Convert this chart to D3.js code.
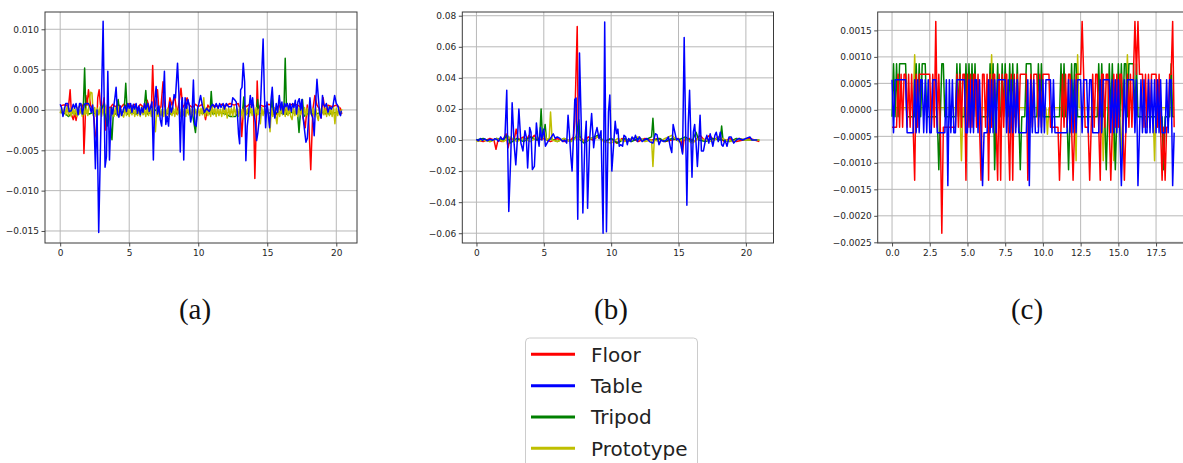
<!DOCTYPE html>
<html>
<head>
<meta charset="utf-8">
<script src="https://cdn.jsdelivr.net/npm/d3@7"></script>
<style>
  html, body { margin: 0; padding: 0; background: #fff; }
  svg { display: block; }
</style>
</head>
<body>
<svg id="fig" width="1183" height="463"></svg>
<script>
// ---------------- data ----------------
const seriesNames = ["Floor", "Table", "Tripod", "Prototype"];
const seriesColors = ["#ff0000", "#0000ff", "#008000", "#bfbf00"];
const captions = ["(a)", "(b)", "(c)"];

// tick values
const aXTicks = [0, 5, 10, 15, 20];
const aYTicks = [-0.015, -0.010, -0.005, 0, 0.005, 0.010];
const bXTicks = [0, 5, 10, 15, 20];
const bYTicks = [-0.06, -0.04, -0.02, 0, 0.02, 0.04, 0.06, 0.08];
const cXTicks = [0, 2.5, 5, 7.5, 10, 12.5, 15, 17.5];
const cYTicks = [-0.0025, -0.002, -0.0015, -0.001, -0.0005, 0, 0.0005, 0.001, 0.0015];

// (a) samples as [time, value]
const aFloor = [[0,0.0005],[0.2,0.0006],[0.45,0.0006],[0.6,0.0003],[0.72,0.0025],[0.82,-0.0006],[0.95,-0.0012],[1.05,-0.0004],[1.15,-0.0013],[1.3,0.0002],[1.45,0.0006],[1.6,0.0006],[1.66,0.0],[1.72,-0.0054],[1.8,-0.002],[1.86,0.0018],[1.95,0.0006],[2.05,0.0025],[2.2,0.0006],[2.4,0.0],[2.52,-0.0028],[2.62,-0.0035],[2.72,0.0015],[2.82,0.0025],[2.92,0.0006],[3.05,0.0],[3.18,0.0015],[3.3,-0.0025],[3.42,0.0006],[3.6,0.0002],[3.8,0.0007],[4.0,0.0004],[4.2,0.0007],[4.4,0.0003],[4.6,0.0007],[4.8,0.0005],[5.0,0.0008],[5.2,0.0004],[5.4,0.0007],[5.6,0.0002],[5.8,0.0007],[6.0,0.0004],[6.1,0.0],[6.3,0.0012],[6.5,0.0],[6.62,0.0008],[6.7,0.0055],[6.8,0.0],[6.9,0.0006],[7.05,0.0025],[7.15,0.0],[7.3,0.0004],[7.45,0.0035],[7.55,0.0006],[7.7,-0.0007],[7.85,0.0003],[7.95,0.0015],[8.1,0.0006],[8.3,0.0017],[8.45,-0.0005],[8.6,0.0008],[8.75,0.0027],[8.88,0.0003],[9.0,0.0006],[9.2,0.0015],[9.35,0.0006],[9.6,0.0003],[9.8,0.0007],[10.0,0.0004],[10.3,0.0007],[10.53,-0.0012],[10.7,0.0006],[10.95,0.0],[11.1,0.0006],[11.4,0.0004],[11.7,0.0007],[12.0,0.0005],[12.3,0.0008],[12.6,0.0006],[12.9,0.0008],[13.05,0.0],[13.15,-0.0033],[13.3,0.0006],[13.5,0.0004],[13.7,0.0007],[14.0,0.0006],[14.1,-0.0085],[14.2,-0.002],[14.27,0.0036],[14.35,0.0],[14.5,0.0006],[14.8,0.0004],[15.1,0.0007],[15.4,0.0005],[15.7,-0.0006],[15.9,0.0006],[16.2,0.0004],[16.4,-0.0005],[16.6,0.0006],[16.9,0.0007],[17.2,0.0006],[17.45,0.0003],[17.6,-0.001],[17.75,-0.0022],[17.9,0.0006],[18.0,-0.0012],[18.15,-0.0074],[18.3,0.0],[18.45,0.0018],[18.6,0.0006],[18.75,0.0002],[18.9,-0.001],[19.05,0.0015],[19.2,-0.0005],[19.4,0.0006],[19.7,0.0004],[20.0,0.0006],[20.3,0.0002],[20.4,-0.0005]];

const aTable = [[0,0.0007],[0.1,0.0003],[0.2,-0.0008],[0.3,0.0],[0.4,0.0008],[0.55,0.0008],[0.65,-0.0002],[0.8,-0.0001],[0.95,0.0007],[1.05,0.0002],[1.15,0.0008],[1.3,-0.0006],[1.4,0.0008],[1.5,0.0008],[1.6,-0.0005],[1.75,0.0007],[1.9,0.0008],[2.05,0.0008],[2.15,0.0004],[2.25,-0.0003],[2.35,0.0006],[2.45,-0.0012],[2.55,-0.0073],[2.67,0.0],[2.79,-0.0152],[2.95,-0.002],[3.11,0.011],[3.25,-0.0071],[3.35,-0.0058],[3.45,0.0048],[3.57,-0.0062],[3.7,0.0003],[3.8,-0.0005],[3.95,0.0013],[4.05,0.0028],[4.15,-0.0005],[4.25,-0.0009],[4.35,0.0005],[4.45,-0.0007],[4.6,0.0002],[4.7,0.0005],[4.8,-0.0002],[4.9,0.0008],[5.0,0.0002],[5.1,0.0008],[5.2,-0.0003],[5.3,0.0007],[5.4,0.0001],[5.5,0.0008],[5.6,-0.0004],[5.7,0.0005],[5.8,-0.0006],[5.9,0.0003],[6.0,-0.0003],[6.1,0.0008],[6.2,0.0001],[6.35,0.0008],[6.45,-0.0002],[6.55,0.0003],[6.65,0.001],[6.75,-0.0062],[6.85,0.0012],[6.95,0.0029],[7.05,-0.0005],[7.15,0.0005],[7.25,-0.0012],[7.35,-0.002],[7.45,0.001],[7.55,0.0048],[7.65,-0.0018],[7.75,-0.0008],[7.85,-0.002],[7.95,0.001],[8.05,-0.0003],[8.15,0.0003],[8.25,0.0019],[8.35,0.0015],[8.5,0.0058],[8.6,0.002],[8.7,-0.0052],[8.8,0.001],[8.85,0.0015],[8.95,-0.0062],[9.05,0.0015],[9.15,0.0002],[9.25,0.0013],[9.35,0.0005],[9.45,-0.0015],[9.55,-0.0006],[9.65,0.0037],[9.75,-0.0018],[9.85,-0.002],[9.95,0.0001],[10.05,0.0008],[10.17,0.0018],[10.3,0.0005],[10.45,-0.0003],[10.6,0.0002],[10.7,0.0],[10.8,-0.0002],[10.95,0.0005],[11.05,0.0007],[11.2,0.0003],[11.3,0.0008],[11.45,0.0002],[11.55,0.0008],[11.65,0.0003],[11.8,0.0008],[11.9,0.0001],[12.03,0.0008],[12.2,0.0004],[12.4,0.0004],[12.5,0.0015],[12.62,0.0013],[12.75,0.001],[12.83,-0.0003],[12.92,-0.003],[13.0,-0.0042],[13.07,0.0025],[13.17,0.0028],[13.26,0.0058],[13.36,0.0035],[13.45,-0.0063],[13.55,-0.002],[13.67,0.0],[13.77,0.0018],[13.86,0.0003],[13.94,0.0015],[14.03,-0.0003],[14.13,-0.0015],[14.23,-0.0038],[14.32,-0.0028],[14.42,-0.0012],[14.52,0.001],[14.6,0.0045],[14.7,0.0088],[14.79,0.002],[14.88,-0.0022],[14.98,0.001],[15.07,-0.0005],[15.17,-0.0022],[15.27,0.0012],[15.36,0.0028],[15.46,0.0],[15.55,-0.001],[15.65,0.0008],[15.75,-0.0003],[15.87,0.0018],[15.97,0.0],[16.06,0.001],[16.16,-0.0005],[16.26,0.0008],[16.35,0.0004],[16.45,0.0008],[16.55,0.0],[16.64,0.0008],[16.74,-0.0002],[16.84,0.0008],[16.93,0.0003],[17.03,0.0012],[17.12,-0.0005],[17.22,0.001],[17.32,0.0014],[17.41,0.0],[17.51,0.0013],[17.6,-0.001],[17.7,-0.0025],[17.8,-0.004],[17.9,-0.0035],[18.0,-0.0008],[18.09,0.0015],[18.19,-0.0005],[18.3,-0.001],[18.4,-0.0032],[18.5,0.0007],[18.6,0.0038],[18.7,0.0015],[18.8,-0.0005],[18.9,-0.001],[19.0,0.0018],[19.08,0.0007],[19.18,0.0004],[19.28,0.0008],[19.4,-0.0003],[19.52,0.0004],[19.64,0.0001],[19.76,0.0005],[19.88,0.0018],[20.0,0.0008],[20.12,0.0005],[20.24,-0.0005],[20.31,-0.0007],[20.36,-0.0001]];

const aTripod = [[0,-0.0003],[0.3,-0.0004],[0.6,-0.0008],[0.9,-0.0003],[1.2,-0.0005],[1.5,-0.0003],[1.66,-0.0005],[1.77,0.0052],[1.86,-0.0003],[2.1,-0.0005],[2.4,-0.0003],[2.7,-0.0006],[2.95,0.0],[3.2,0.0008],[3.4,-0.002],[3.55,0.0],[3.75,-0.0037],[3.86,0.0],[4.0,-0.0005],[4.2,0.0013],[4.32,-0.0005],[4.5,-0.0003],[4.63,-0.0002],[4.75,0.0033],[4.86,-0.0005],[5.2,-0.0003],[5.5,-0.0005],[5.8,-0.0002],[6.05,-0.0005],[6.2,0.0024],[6.32,-0.0005],[6.6,-0.0003],[6.9,0.0],[7.2,-0.0005],[7.6,-0.0003],[8.0,-0.0005],[8.4,-0.0002],[8.8,-0.0005],[9.2,-0.0003],[9.6,-0.0006],[9.8,-0.0028],[9.92,-0.0002],[10.3,-0.0004],[10.7,-0.0003],[10.85,-0.0005],[10.94,0.0023],[11.05,-0.0005],[11.5,-0.0003],[12.0,-0.0005],[12.3,-0.0008],[12.7,-0.0008],[12.9,-0.0003],[13.2,-0.0004],[13.3,0.0016],[13.4,-0.0005],[13.8,-0.0003],[14.2,-0.0004],[14.3,0.0013],[14.4,-0.0005],[14.9,-0.0003],[15.25,-0.0004],[15.35,0.0015],[15.45,-0.0005],[15.9,-0.0003],[16.2,-0.0005],[16.3,0.0064],[16.4,-0.0005],[16.8,-0.0003],[17.2,-0.0005],[17.3,-0.0028],[17.4,-0.0003],[17.55,0.0013],[17.65,-0.0008],[18.0,-0.0003],[18.5,-0.0005],[19.0,-0.0003],[19.5,-0.0005],[20.0,-0.0003],[20.4,-0.0003]];

// (a) prototype, one sample every 0.1 s
const aPrototypeStep = 0.1;
const aPrototype = [
  -0.0004,0.0002,-0.0007,0.0003,-0.0006,0.0004,-0.0007,0.0002,-0.0008,0.0003,
  -0.0006,0.0001,-0.0008,0.0003,-0.0005,0.0002,-0.0008,0.0004,-0.0006,0.0002,
  -0.0007,0.0008,0.0022,0.0021,-0.0007,0.0003,-0.0008,0.0002,-0.0006,0.0004,
  -0.0008,0.0001,-0.0007,0.0003,-0.0009,-0.0012,0.0002,-0.0007,0.0003,-0.0008,
  0.0002,-0.0007,0.0004,-0.0008,0.0001,-0.0006,-0.0009,0.0003,-0.0007,0.0002,
  -0.0008,0.0005,-0.0006,0.0002,-0.0008,0.0003,-0.0007,0.0001,-0.0008,0.0004,
  -0.0006,0.0002,-0.0008,0.0003,-0.0007,0.0002,-0.0008,0.0004,-0.0006,-0.0027,
  0.0002,-0.0008,0.0003,-0.0007,0.0001,-0.0008,0.0003,-0.0006,0.0002,-0.0008,
  0.0004,-0.0007,0.0002,-0.0008,0.0003,-0.0006,0.0001,-0.0008,0.0003,-0.0007,
  0.0002,-0.0008,0.0004,-0.0006,0.0002,-0.0009,0.0003,-0.0007,0.0001,-0.0008,
  0.0003,-0.0007,0.0002,-0.0006,0.0015,-0.0008,0.0003,-0.0007,0.0002,-0.0008,
  0.0004,-0.0006,0.0002,-0.0008,0.0003,-0.0007,0.0001,-0.0008,0.0003,-0.0006,
  0.0002,-0.0010,0.0003,-0.0007,0.0002,-0.0008,0.0004,-0.0006,0.0002,-0.0008,
  0.0003,-0.0007,0.0001,-0.0011,0.0003,-0.0006,0.0002,-0.0008,0.0004,-0.0007,
  0.0002,-0.0008,0.0003,-0.0006,0.0001,-0.0017,0.0003,-0.0007,0.0002,-0.0008,
  0.0004,-0.0006,-0.0027,0.0002,-0.0008,0.0003,-0.0007,-0.0017,0.0002,-0.0008,
  0.0003,-0.0006,0.0002,-0.0008,0.0004,-0.0007,0.0002,-0.0008,-0.0012,0.0003,
  -0.0007,0.0002,-0.0008,0.0003,-0.0006,0.0001,-0.0008,0.0003,-0.0007,0.0002,
  -0.0008,0.0004,-0.0006,0.0002,-0.0008,0.0003,-0.0007,-0.0013,0.0002,-0.0008,
  0.0003,-0.0006,0.0002,-0.0008,0.0004,-0.0007,0.0002,-0.0008,0.0003,-0.0017,
  0.0002,-0.0007,0.0003,-0.0006,0.0001
];

// (b) samples as [time, value]
const bFloor = [[0,0.0],[0.5,-0.001],[1.0,0.001],[1.3,0.0],[1.45,-0.006],[1.6,0.0],[1.9,-0.001],[2.2,0.004],[2.35,-0.005],[2.5,0.001],[2.8,0.0],[2.95,0.007],[3.1,0.0],[3.5,0.002],[3.7,0.0],[3.9,0.003],[4.1,0.001],[4.3,0.003],[4.5,0.0],[5.0,0.001],[5.5,-0.001],[6.0,0.001],[6.5,-0.001],[7.0,0.0],[7.2,0.002],[7.3,0.012],[7.48,0.073],[7.56,0.0],[7.7,0.002],[8.0,-0.001],[8.3,0.002],[8.6,0.0],[9.0,0.002],[9.5,-0.001],[10.0,0.001],[10.4,-0.002],[10.8,0.001],[11.2,-0.001],[11.6,0.001],[12.0,-0.001],[12.5,0.001],[13.0,0.0],[13.5,0.001],[14.0,-0.001],[14.5,0.0],[15.0,0.001],[15.2,-0.001],[15.3,-0.008],[15.4,0.0],[15.8,0.001],[16.2,-0.001],[16.6,0.003],[16.9,0.0],[17.3,0.003],[17.6,0.0],[18.0,0.002],[18.4,-0.001],[18.8,0.001],[19.3,-0.001],[19.8,0.0],[20.3,0.001],[21.0,-0.001]];

const bTable = [[0,0.0005],[0.15,-0.0005],[0.3,0.001],[0.45,-0.0003],[0.6,0.0008],[0.8,-0.0005],[1.0,0.0005],[1.2,-0.0002],[1.35,0.0008],[1.5,0.0005],[1.65,-0.0008],[1.8,0.002],[1.9,0.0005],[2.05,0.0008],[2.12,0.003],[2.25,0.032],[2.4,-0.046],[2.55,-0.01],[2.65,0.024],[2.8,-0.003],[2.92,-0.016],[3.05,0.002],[3.15,0.02],[3.3,-0.002],[3.45,-0.007],[3.6,0.006],[3.7,0.002],[3.8,-0.018],[3.95,0.008],[4.05,0.005],[4.15,-0.019],[4.3,-0.017],[4.45,0.011],[4.55,0.002],[4.65,-0.004],[4.75,0.008],[4.85,0.0],[5.0,0.007],[5.12,-0.004],[5.3,-0.001],[5.5,0.001],[5.7,0.004],[5.85,0.001],[6.0,0.002],[6.2,0.001],[6.4,-0.001],[6.55,0.0],[6.7,-0.002],[6.8,0.016],[6.9,0.004],[7.0,-0.01],[7.1,-0.02],[7.2,0.002],[7.3,0.026],[7.4,0.027],[7.52,-0.051],[7.65,0.056],[7.78,0.01],[7.9,-0.047],[8.05,0.0],[8.15,0.012],[8.25,-0.044],[8.4,0.0],[8.55,0.017],[8.7,-0.005],[8.8,0.003],[8.95,0.008],[9.1,0.001],[9.25,0.006],[9.4,-0.06],[9.52,0.076],[9.65,-0.059],[9.8,0.018],[9.9,0.029],[10.05,-0.02],[10.3,0.012],[10.4,0.004],[10.5,0.007],[10.6,-0.004],[10.7,-0.003],[10.85,-0.004],[10.95,0.003],[11.08,0.002],[11.2,-0.003],[11.3,0.001],[11.45,-0.001],[11.55,0.002],[11.7,0.0],[11.8,0.003],[11.95,-0.001],[12.1,0.002],[12.3,-0.001],[12.45,0.0],[12.65,0.001],[12.85,-0.001],[13.1,-0.002],[13.28,0.004],[13.4,0.0035],[13.55,-0.003],[13.7,0.0],[13.9,-0.001],[14.1,0.0],[14.25,0.002],[14.4,-0.005],[14.5,-0.008],[14.6,0.01],[14.7,0.006],[14.85,0.0],[14.95,0.001],[15.15,-0.002],[15.3,-0.009],[15.42,0.066],[15.52,0.01],[15.62,-0.042],[15.72,0.01],[15.82,0.032],[15.92,0.0],[16.0,-0.024],[16.1,0.005],[16.2,0.01],[16.3,-0.002],[16.4,-0.017],[16.5,-0.002],[16.6,0.016],[16.7,-0.007],[16.85,-0.007],[17.0,0.0],[17.1,0.003],[17.25,-0.002],[17.35,0.004],[17.45,0.0],[17.55,-0.004],[17.7,0.003],[17.8,0.005],[17.95,-0.001],[18.1,0.005],[18.2,-0.003],[18.3,-0.004],[18.45,0.0],[18.6,-0.004],[18.75,0.002],[18.9,0.002],[19.1,-0.002],[19.3,0.0],[19.5,0.001],[19.75,0.0],[20.0,0.001],[20.3,0.002],[20.45,0.0],[20.85,0.0]];

const bTripod = [[0,0.0],[0.5,0.001],[1.0,-0.001],[1.5,0.001],[2.0,0.0],[2.3,0.003],[2.5,-0.002],[3.0,0.001],[3.5,-0.001],[4.0,0.002],[4.5,0.0],[4.7,0.002],[4.8,0.02],[4.9,0.002],[5.0,0.004],[5.1,0.01],[5.2,0.0],[5.5,0.001],[6.0,-0.001],[6.5,0.001],[7.0,-0.001],[7.4,0.002],[7.6,0.013],[7.7,0.0],[8.0,-0.002],[8.5,0.001],[9.0,0.003],[9.5,-0.001],[10.0,0.001],[10.5,-0.002],[11.0,0.001],[11.5,-0.001],[12.0,0.001],[12.5,0.0],[13.0,0.002],[13.1,0.014],[13.2,0.0],[13.6,0.001],[14.0,-0.001],[14.5,0.001],[15.0,0.0],[15.5,0.002],[16.0,-0.001],[16.3,0.005],[16.5,0.0],[17.0,-0.001],[17.5,0.001],[18.1,0.0],[18.2,0.009],[18.3,0.0],[18.8,-0.001],[19.3,0.001],[20.0,0.0],[21.0,0.0]];

const bPrototype = [[0,-0.001],[0.5,0.0],[1.0,-0.001],[1.5,0.001],[2.0,-0.001],[2.5,0.002],[3.0,-0.001],[3.5,0.001],[4.0,-0.001],[4.5,0.002],[4.9,0.001],[5.05,0.006],[5.2,0.0],[5.4,0.001],[5.5,0.018],[5.62,0.0],[6.0,-0.001],[6.5,0.001],[7.0,-0.001],[7.5,0.002],[8.0,-0.001],[8.5,0.001],[9.0,0.002],[9.5,-0.001],[10.0,-0.002],[10.5,0.001],[11.0,-0.001],[11.5,0.001],[12.0,0.002],[12.5,-0.001],[13.0,0.0],[13.1,-0.017],[13.2,0.0],[13.6,-0.001],[14.0,0.001],[14.5,0.003],[15.0,-0.001],[15.5,0.001],[16.0,-0.002],[16.5,0.001],[17.0,0.0],[17.5,-0.001],[18.0,0.002],[18.5,0.0],[19.0,-0.001],[19.5,0.001],[20.0,0.0],[21.0,0.0]];

// (c) one sample every 0.1 s
const cStep = 0.1;
const cFloor = [
  -0.00033,-0.00033,-0.00033,-0.00033,0.00067,-0.00033,0.00067,-0.00033,0.00067,0.00067,
  -0.00033,0.00067,-0.00033,0.00067,-0.00033,-0.00133,0.00067,-0.00033,0.00067,0.00067,
  0.00067,0.00067,0.00067,0.00067,0.00067,0.00067,-0.00033,0.00067,-0.00033,0.00167,
  -0.00033,0.00067,-0.00033,-0.00233,-0.00033,-0.00033,-0.00033,-0.00033,-0.00033,-0.00033,
  -0.00033,-0.00033,-0.00033,0.00067,-0.00033,0.00067,-0.00033,0.00067,0.00067,-0.00133,
  0.00067,-0.00033,0.00067,-0.00033,0.00067,0.00067,-0.00033,0.00067,-0.00033,-0.00133,
  0.00067,0.00067,-0.00033,0.00067,-0.00133,0.00067,-0.00033,0.00067,0.00067,-0.00033,
  -0.00133,0.00067,-0.00133,0.00067,-0.00033,0.00067,0.00067,-0.00033,-0.00133,0.00067,
  -0.00133,0.00067,-0.00033,0.00067,-0.00033,0.00067,0.00067,0.00067,0.00067,0.00067,
  -0.00133,-0.00033,0.00067,-0.00033,0.00067,0.00067,0.00067,-0.00033,0.00067,-0.00033,
  0.00067,0.00067,0.00067,0.00067,0.00067,-0.00033,-0.00033,-0.00033,-0.00033,-0.00033,
  -0.00033,-0.00133,-0.00033,0.00067,-0.00033,0.00067,-0.00033,0.00067,0.00067,-0.00033,
  -0.00133,-0.00033,0.00067,0.00067,0.00067,0.00067,0.00167,0.00067,-0.00033,-0.00033,
  -0.00033,-0.00133,-0.00033,0.00067,-0.00033,0.00067,0.00067,-0.00033,-0.00133,0.00067,
  0.00067,-0.00033,0.00067,0.00067,-0.00033,-0.00133,-0.00033,0.00067,-0.00033,0.00067,
  -0.00033,0.00067,0.00067,-0.00033,-0.00133,-0.00033,0.00067,-0.00033,0.00067,-0.00033,
  0.00067,0.00167,0.00067,0.00167,0.00067,0.00067,0.00067,-0.00033,0.00067,-0.00033,
  0.00067,-0.00033,0.00067,0.00067,0.00067,0.00067,-0.00033,0.00067,-0.00033,-0.00133,
  -0.00033,-0.00133,-0.00033,-0.00033,0.00067,0.00067,0.00167,-0.00033
];
const cTable = [
  0.00057,-0.00043,0.00057,0.00057,0.00057,0.00057,0.00057,0.00057,0.00057,0.00057,
  -0.00043,-0.00043,-0.00043,-0.00043,-0.00043,0.00057,-0.00043,0.00057,-0.00043,0.00057,
  0.00057,-0.00043,0.00057,-0.00043,0.00057,-0.00043,-0.00043,0.00057,0.00057,0.00057,
  -0.00043,-0.00043,-0.00043,-0.00043,-0.00043,-0.00043,0.00057,-0.00143,0.00057,-0.00043,
  0.00057,-0.00043,-0.00043,0.00057,0.00057,0.00057,0.00057,0.00057,0.00057,-0.00043,
  -0.00043,0.00057,-0.00043,0.00057,-0.00043,0.00057,0.00057,-0.00043,0.00057,-0.00043,
  -0.00143,-0.00043,-0.00043,-0.00043,0.00057,-0.00043,0.00057,-0.00043,0.00057,-0.00043,
  0.00057,0.00057,0.00057,0.00057,0.00057,0.00057,-0.00043,0.00057,-0.00043,0.00057,
  -0.00043,0.00057,-0.00043,0.00057,-0.00043,-0.00043,-0.00043,-0.00043,-0.00043,-0.00043,
  0.00057,-0.00143,0.00057,-0.00043,0.00057,-0.00043,-0.00043,-0.00043,0.00057,-0.00043,
  0.00057,-0.00043,0.00057,0.00057,0.00057,0.00057,-0.00043,0.00057,-0.00043,-0.00043,
  -0.00043,-0.00043,-0.00043,-0.00043,-0.00043,-0.00043,-0.00043,0.00057,-0.00043,0.00057,
  -0.00043,0.00057,-0.00043,0.00057,0.00057,0.00057,-0.00043,0.00057,0.00057,0.00057,
  -0.00043,0.00057,0.00057,-0.00043,-0.00043,-0.00043,-0.00043,-0.00043,0.00057,-0.00043,
  0.00057,0.00057,0.00057,0.00057,0.00057,-0.00043,0.00057,-0.00043,0.00057,-0.00043,
  0.00057,-0.00043,-0.00143,-0.00043,0.00057,-0.00043,0.00057,0.00057,0.00057,0.00057,
  0.00057,-0.00043,0.00057,-0.00143,-0.00043,0.00057,-0.00043,0.00057,-0.00043,-0.00043,
  0.00057,-0.00043,0.00057,-0.00043,0.00057,-0.00043,0.00057,-0.00043,0.00057,-0.00043,
  -0.00043,-0.00043,0.00057,-0.00043,0.00057,0.00057,-0.00143,-0.00043
];
const cTripod = [
  -0.00013,0.00087,-0.00013,0.00087,-0.00013,0.00087,0.00087,0.00087,0.00087,0.00087,
  -0.00013,-0.00013,-0.00013,-0.00013,-0.00013,-0.00013,0.00087,-0.00013,0.00087,-0.00013,
  0.00087,0.00087,0.00087,-0.00013,-0.00013,-0.00013,-0.00013,-0.00013,-0.00013,-0.00013,
  -0.00013,-0.00113,-0.00013,0.00087,0.00087,-0.00013,-0.00013,-0.00013,-0.00013,-0.00013,
  -0.00013,-0.00013,-0.00013,0.00087,-0.00013,0.00087,-0.00013,-0.00013,-0.00013,0.00087,
  -0.00013,0.00087,-0.00013,0.00087,-0.00013,0.00087,-0.00013,-0.00013,-0.00013,-0.00013,
  -0.00013,-0.00013,-0.00013,-0.00013,-0.00013,0.00087,-0.00013,0.00087,-0.00113,-0.00013,
  0.00087,-0.00013,-0.00013,0.00087,-0.00013,0.00087,-0.00013,-0.00013,0.00087,-0.00013,
  0.00087,-0.00013,-0.00013,0.00087,-0.00013,-0.00113,-0.00013,-0.00013,-0.00013,0.00087,
  0.00087,0.00087,0.00087,-0.00013,-0.00013,-0.00013,-0.00013,0.00087,-0.00013,0.00087,
  -0.00013,-0.00013,-0.00013,-0.00013,-0.00013,-0.00013,-0.00013,-0.00013,-0.00013,-0.00013,
  -0.00013,-0.00013,0.00087,-0.00013,0.00087,-0.00013,-0.00013,-0.00113,-0.00013,0.00087,
  -0.00013,0.00087,0.00087,-0.00013,-0.00013,-0.00013,-0.00013,-0.00013,-0.00013,-0.00013,
  -0.00013,-0.00013,-0.00013,-0.00013,-0.00013,-0.00013,-0.00013,0.00087,-0.00013,0.00087,
  -0.00013,-0.00013,-0.00113,-0.00013,0.00087,-0.00013,0.00087,-0.00013,-0.00113,-0.00013,
  0.00087,-0.00013,0.00087,-0.00013,0.00087,0.00087,-0.00013,0.00087,0.00087,0.00087,
  0.00087,-0.00013,0.00087,-0.00013,-0.00013,-0.00013,-0.00013,-0.00013,-0.00013,-0.00013,
  -0.00013,-0.00013,-0.00013,-0.00013,-0.00013,-0.00013,-0.00013,-0.00013,-0.00013,-0.00013,
  -0.00113,-0.00013,-0.00013,-0.00013,-0.00013,0.00087,-0.00013,-0.00013
];
const cPrototype = [
  0.00004,0.00004,0.00004,0.00004,0.00004,0.00004,0.00004,0.00004,0.00004,0.00004,
  0.00004,0.00004,0.00004,0.00004,0.00004,0.00104,0.00004,0.00004,0.00004,0.00004,
  0.00004,0.00004,0.00004,0.00004,0.00004,0.00004,0.00004,0.00004,0.00004,0.00004,
  0.00004,0.00004,0.00004,0.00004,0.00004,0.00004,0.00004,0.00004,0.00004,0.00004,
  0.00004,0.00004,0.00004,0.00004,0.00004,0.00004,-0.00096,0.00004,0.00004,0.00004,
  0.00004,0.00004,0.00004,0.00004,0.00004,0.00004,0.00004,0.00004,0.00004,0.00004,
  0.00004,0.00004,0.00004,0.00004,0.00004,0.00004,0.00104,0.00004,0.00004,0.00004,
  0.00004,0.00004,0.00004,0.00004,0.00004,0.00004,0.00004,0.00004,0.00004,0.00004,
  0.00004,0.00004,0.00004,0.00004,0.00004,0.00004,0.00004,0.00004,0.00004,0.00004,
  0.00004,0.00004,0.00004,0.00004,0.00004,0.00004,0.00004,0.00004,0.00004,0.00004,
  0.00004,0.00004,0.00004,-0.00046,0.00004,0.00004,0.00004,0.00004,0.00004,0.00004,
  0.00004,0.00004,0.00004,0.00004,0.00004,0.00004,0.00004,0.00004,0.00004,0.00004,
  0.00004,0.00004,-0.00096,0.00104,0.00004,0.00004,0.00004,0.00004,0.00004,0.00004,
  0.00004,0.00004,0.00004,0.00004,0.00004,0.00004,0.00004,0.00004,0.00004,0.00004,
  -0.00096,0.00004,0.00004,0.00004,0.00004,0.00004,0.00004,-0.00096,0.00004,0.00004,
  0.00004,0.00004,-0.00096,0.00004,0.00004,0.00004,0.00104,0.00004,0.00004,0.00004,
  0.00004,0.00004,0.00004,0.00004,0.00004,0.00004,0.00004,0.00004,0.00004,0.00004,
  0.00004,0.00004,0.00004,0.00004,-0.00096,0.00004,0.00004,0.00004,0.00004,0.00004,
  0.00004,0.00004,0.00004,0.00004,0.00004,0.00004,0.00004,0.00004
];

// ---------------- layout ----------------
const toPairs = (vals, step) => vals.map((v, i) => [i * step, v]);

const panels = [
  {
    box: { left: 45, right: 357, top: 12, bottom: 243 },
    xDomain: [-1.1, 21.5], yDomain: [-0.01649, 0.01214],
    xTicks: aXTicks, yTicks: aYTicks, xFmt: d3.format("d"), yFmt: d3.format(".3f"),
    lines: { Floor: aFloor, Table: aTable, Tripod: aTripod, Prototype: toPairs(aPrototype, aPrototypeStep) },
    order: ["Floor", "Tripod", "Prototype", "Table"],
    caption: captions[0], capX: 195
  },
  {
    box: { left: 462.3, right: 773.5, top: 12, bottom: 243 },
    xDomain: [-1.05, 22.05], yDomain: [-0.0663, 0.0824],
    xTicks: bXTicks, yTicks: bYTicks, xFmt: d3.format("d"), yFmt: d3.format(".2f"),
    lines: { Floor: bFloor, Table: bTable, Tripod: bTripod, Prototype: bPrototype },
    order: ["Floor", "Tripod", "Prototype", "Table"],
    caption: captions[1], capX: 611
  },
  {
    box: { left: 877.7, right: 1188.5, top: 12, bottom: 243 },
    xDomain: [-0.95, 19.65], yDomain: [-0.002513, 0.001847],
    xTicks: cXTicks, yTicks: cYTicks, xFmt: d3.format(".1f"), yFmt: d3.format(".4f"),
    lines: { Floor: toPairs(cFloor, cStep), Table: toPairs(cTable, cStep), Tripod: toPairs(cTripod, cStep), Prototype: toPairs(cPrototype, cStep) },
    order: ["Prototype", "Tripod", "Floor", "Table"],
    caption: captions[2], capX: 1027
  }
];

const colorOf = d3.scaleOrdinal().domain(seriesNames).range(seriesColors);
const svg = d3.select("#fig");
svg.append("rect").attr("width", 1183).attr("height", 463).attr("fill", "#fff");

const tickFont = "DejaVu Sans, sans-serif";

panels.forEach((p, pi) => {
  const b = p.box;
  const x = d3.scaleLinear().domain(p.xDomain).range([b.left, b.right]);
  const y = d3.scaleLinear().domain(p.yDomain).range([b.bottom, b.top]);
  const g = svg.append("g");

  const clipId = "clip" + pi;
  g.append("clipPath").attr("id", clipId)
    .append("rect").attr("x", b.left).attr("y", b.top)
    .attr("width", b.right - b.left).attr("height", b.bottom - b.top);

  // grid
  const grid = g.append("g").attr("clip-path", `url(#${clipId})`);
  grid.selectAll("line.gx").data(p.xTicks).join("line")
    .attr("x1", d => x(d)).attr("x2", d => x(d))
    .attr("y1", b.top).attr("y2", b.bottom)
    .attr("stroke", "#b8b8b8").attr("stroke-width", 1);
  grid.selectAll("line.gy").data(p.yTicks).join("line")
    .attr("x1", b.left).attr("x2", b.right)
    .attr("y1", d => y(d)).attr("y2", d => y(d))
    .attr("stroke", "#b8b8b8").attr("stroke-width", 1);

  // series
  const line = d3.line().x(d => x(d[0])).y(d => y(d[1]));
  const plot = g.append("g").attr("clip-path", `url(#${clipId})`);
  p.order.forEach(name => {
    plot.append("path")
      .datum(p.lines[name])
      .attr("d", line)
      .attr("fill", "none")
      .attr("stroke", colorOf(name))
      .attr("stroke-width", 1.5)
      .attr("stroke-linejoin", "round");
  });

  // frame
  g.append("rect")
    .attr("x", b.left).attr("y", b.top)
    .attr("width", b.right - b.left).attr("height", b.bottom - b.top)
    .attr("fill", "none").attr("stroke", "#3a3a3a").attr("stroke-width", 1);

  // axes
  const xa = g.append("g").attr("transform", `translate(0,${b.bottom})`)
    .call(d3.axisBottom(x).tickValues(p.xTicks).tickFormat(p.xFmt).tickSize(3.5).tickPadding(3));
  const ya = g.append("g").attr("transform", `translate(${b.left},0)`)
    .call(d3.axisLeft(y).tickValues(p.yTicks).tickFormat(p.yFmt).tickSize(3.5).tickPadding(2.5));
  [xa, ya].forEach(a => {
    a.select(".domain").remove();
    a.selectAll(".tick line").attr("stroke", "#3a3a3a").attr("stroke-width", 0.9);
    a.selectAll(".tick text").attr("fill", "#262626")
      .style("font-family", tickFont).style("font-size", "9px");
  });

  // caption
  svg.append("text")
    .attr("x", p.capX).attr("y", 319)
    .attr("text-anchor", "middle")
    .style("font-family", "Liberation Serif, serif")
    .style("font-size", "29px")
    .attr("fill", "#111")
    .text(p.caption);
});

// legend
const legend = svg.append("g");
legend.append("rect")
  .attr("x", 525.5).attr("y", 338).attr("width", 172).attr("height", 140)
  .attr("rx", 4).attr("fill", "#fff").attr("stroke", "#cccccc").attr("stroke-width", 1);
const legendRow = d3.scalePoint().domain(seriesNames).range([354.3, 448.3]);
seriesNames.forEach(name => {
  const ly = legendRow(name);
  legend.append("line")
    .attr("x1", 531).attr("x2", 575).attr("y1", ly).attr("y2", ly)
    .attr("stroke", colorOf(name)).attr("stroke-width", 3);
  legend.append("text")
    .attr("x", 591).attr("y", ly + 7.5)
    .style("font-family", "DejaVu Sans, sans-serif")
    .style("font-size", "20px")
    .attr("fill", "#222")
    .text(name);
});
</script>
</body>
</html>
